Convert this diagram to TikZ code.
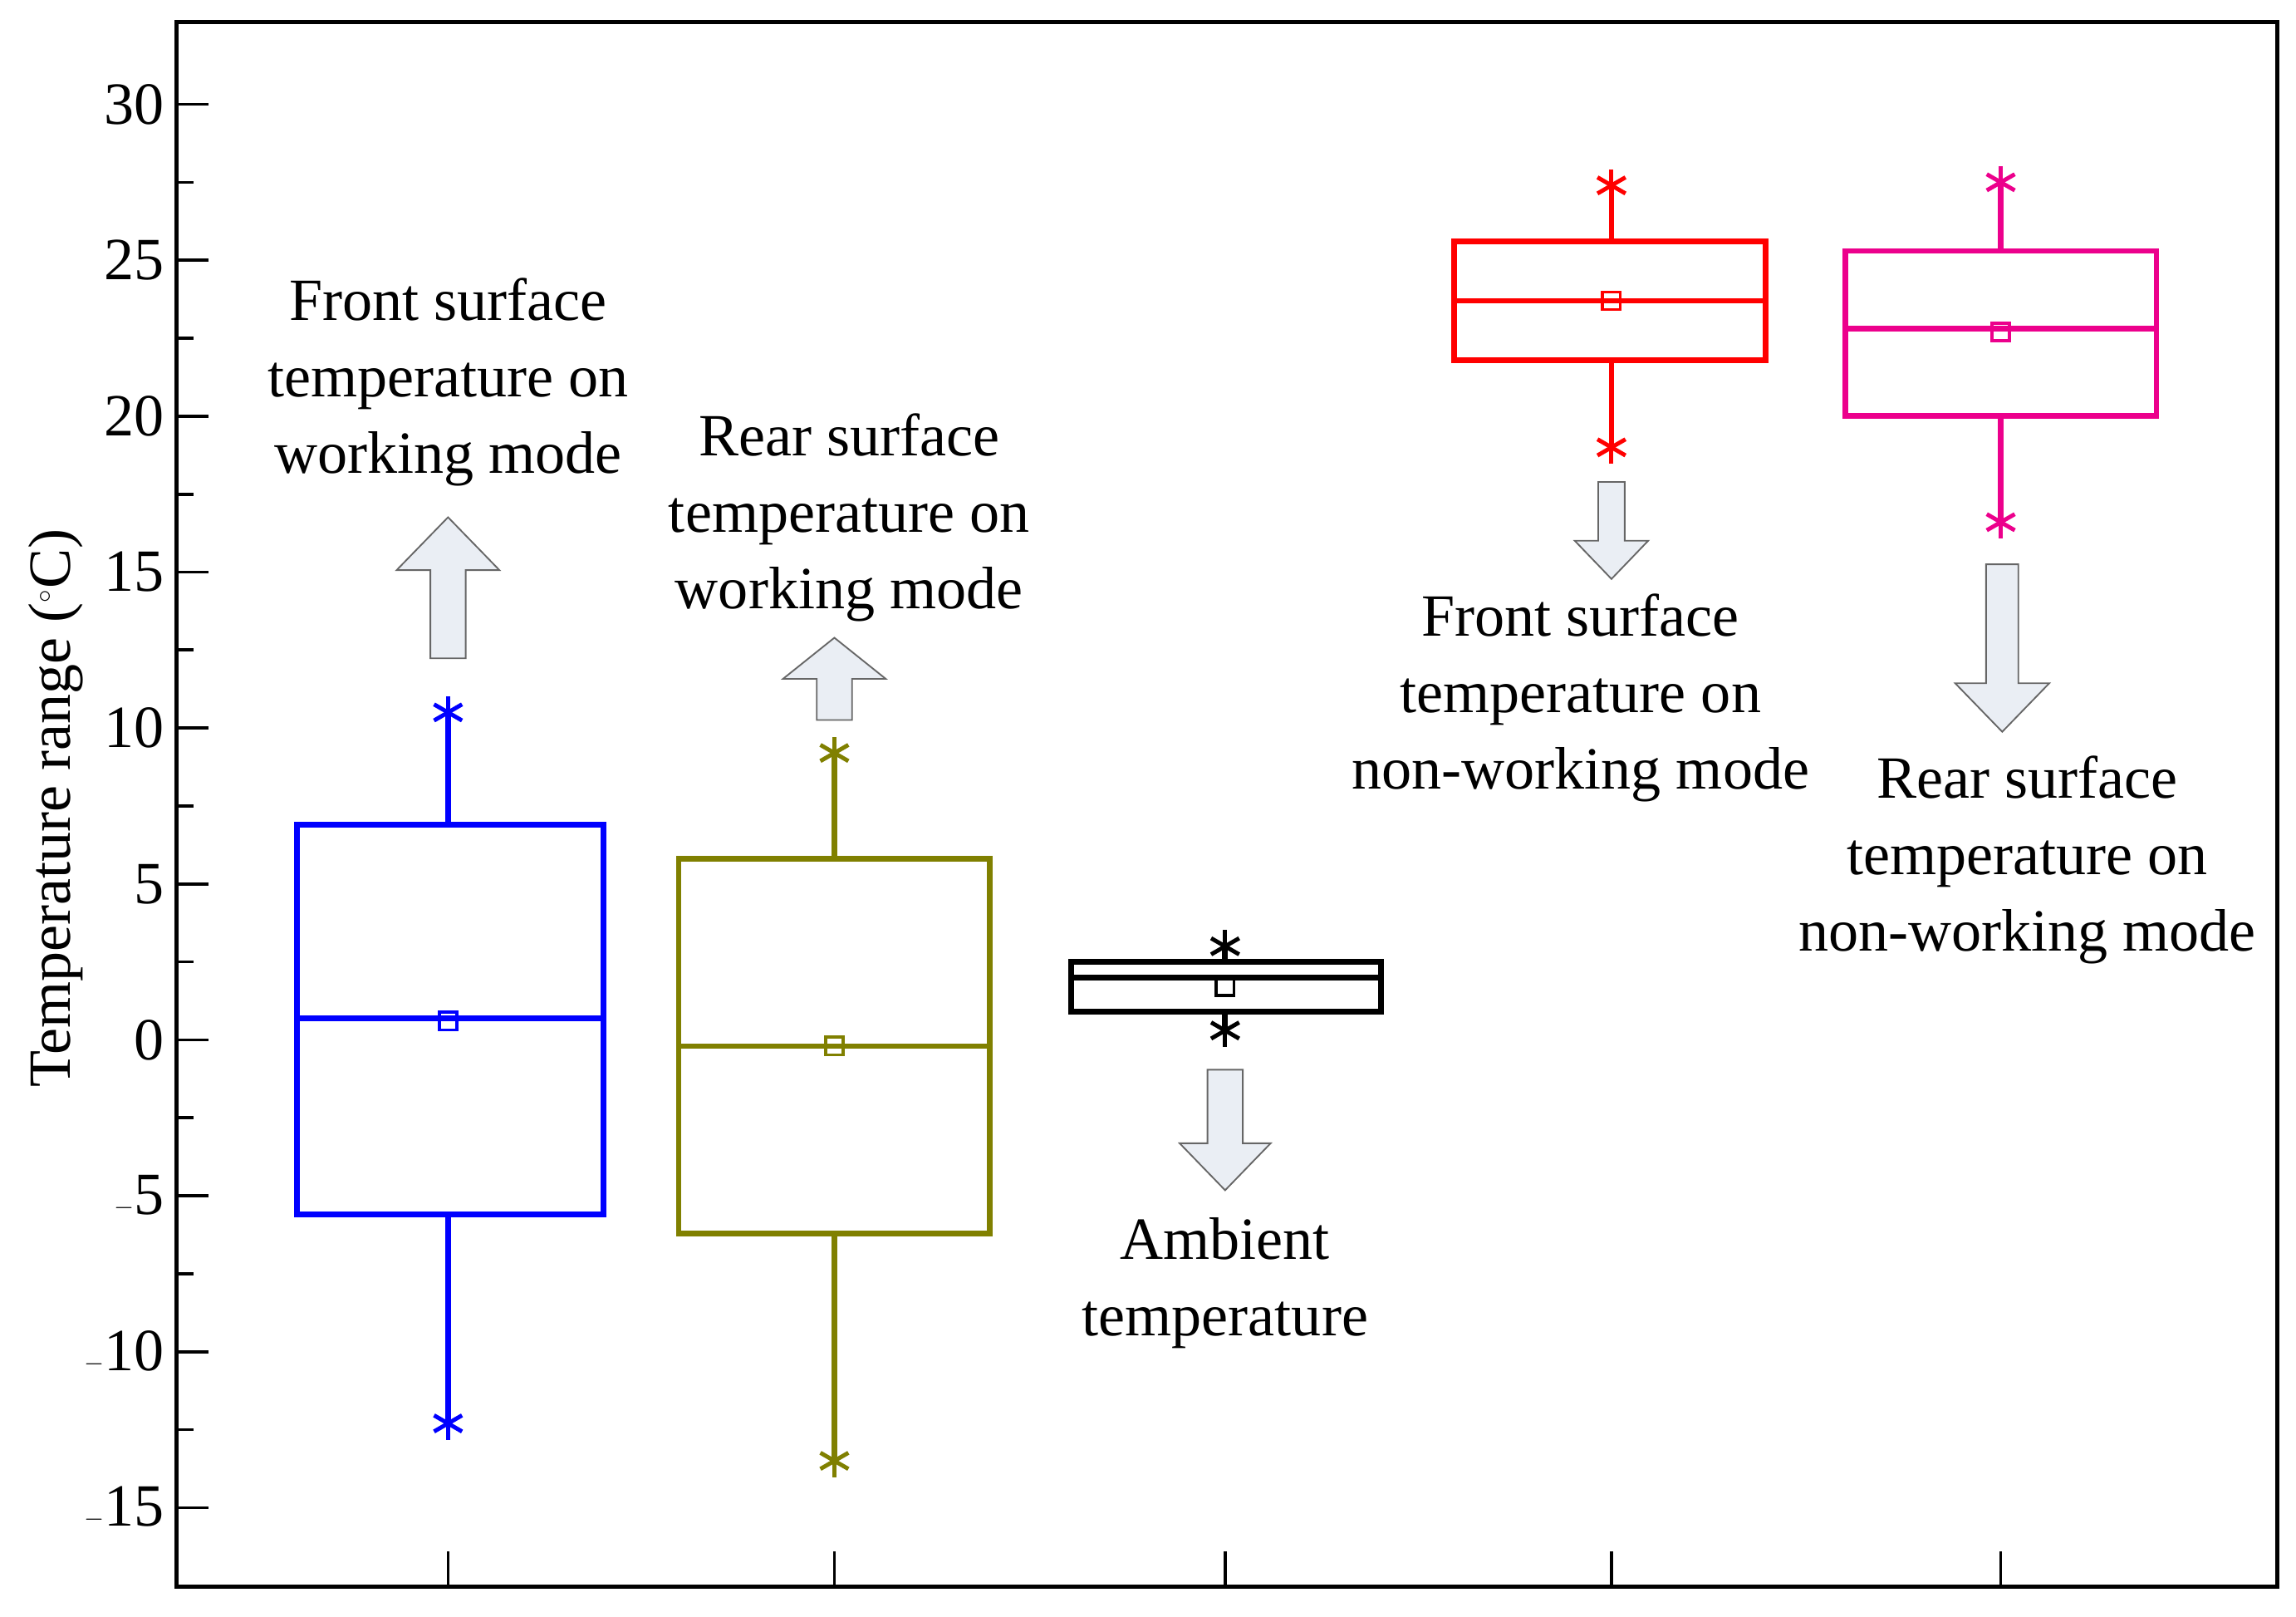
\documentclass[tikz,border=0pt]{standalone}
\usepackage{fontspec}
\setmainfont{Liberation Serif}
\definecolor{olive2}{RGB}{128,128,0}
\definecolor{arrfill}{RGB}{234,238,244}
\newcommand\Y[1]{(71+(30-(#1))*21.222)}
% box: color, cx, left, right, top, bottom, median, mean, whiskhi, whisklo
\newcommand\mybox[9]{%
 \draw[bxl,#1] (#3,{\Y{#5}}) rectangle (#4,{\Y{#6}});
 \draw[bxl,#1] (#3,{\Y{#7}}) -- (#4,{\Y{#7}});
 \draw[bxl,#1] (#2,{\Y{#5}}) -- (#2,{\Y{#9}});
 \draw[bxl,#1] (#2,{\Y{#6}}) -- (#2,{\Y{\lowv}});
 \draw[#1,line width=3pt] ({#2-6},{\Y{#8}-6}) rectangle ({#2+6},{\Y{#8}+6});
 \foreach \v in {#9,\lowv}{\foreach \a in {90,30,-30}{\draw[#1,line width=4pt] ($(#2,{\Y{\v}})+(\a:11)$) -- ($(#2,{\Y{\v}})+(\a+180:11)$);}}
}
% block arrow: cx, shaft half width, shaft end y, head base y, head half width, tip y
\newcommand\barr[6]{\draw[arrl] ({#1-#2},#3) -- ({#1-#2},#4) -- ({#1-#5},#4) -- (#1,#6) -- ({#1+#5},#4) -- ({#1+#2},#4) -- ({#1+#2},#3) -- cycle;}
\usetikzlibrary{calc}
\begin{document}
\begin{tikzpicture}[x=0.05cm,y=-0.05cm,
 bxl/.style={line width=5.5pt},
 arrl/.style={fill=arrfill,draw=gray!80!black,line width=1.5pt},
 lbl/.style={font=\fontsize{58}{74}\selectfont,align=center,inner sep=0pt},
 tk/.style={font=\fontsize{58}{70}\selectfont,anchor=east,inner sep=0pt}]
\useasboundingbox (0,0) rectangle (1563,1100);
\draw[line width=4pt] (120,15) rectangle (1550,1080);
\foreach \v in {-15,-10,...,30}{
 \draw[line width=3pt] (120,{\Y{\v}}) -- (142,{\Y{\v}});
 \node[tk] (t\v) at (112,{\Y{\v}}) {\ifnum\v<0 $-$\the\numexpr-\v\relax\else\v\fi};}
\foreach \v in {-12.5,-7.5,...,27.5}{\draw[line width=3pt] (120,{\Y{\v}}) -- (132,{\Y{\v}});}
\foreach \x in {305,568,834,1097,1362}{\draw[line width=3pt] (\x,1080) -- (\x,1056);}
\node[font=\fontsize{58}{70}\selectfont,rotate=90,inner sep=0pt] (yl) at (38,550) {Temperature range (\textsuperscript{$^\circ$}C)};
\def\lowv{-12.3}\mybox{blue}{305}{202}{411}{6.9}{-5.6}{0.7}{0.6}{10.5}
\def\lowv{-13.5}\mybox{olive2}{568}{462}{674}{5.8}{-6.2}{-0.2}{-0.2}{9.2}
\def\lowv{0.3}\mybox{black}{834}{729}{940}{2.5}{0.9}{2.0}{1.7}{3.0}
\def\lowv{19.0}\mybox{red}{1097}{990}{1202}{25.6}{21.8}{23.7}{23.7}{27.4}
\def\lowv{16.6}\mybox{magenta}{1362}{1256}{1468}{25.3}{20.0}{22.8}{22.7}{27.5}
\barr{305}{12}{448}{388}{35}{352}
\barr{568}{12}{490}{462}{35}{434}
\barr{834}{12}{728}{778}{31}{810}
\barr{1097}{9}{328}{368}{25}{394}
\barr{1363}{11}{384}{465}{32}{498}
\node[lbl] (l1) at (305,260) {Front surface\\temperature on\\working mode};
\node[lbl] (l2) at (578,352) {Rear surface\\temperature on\\working mode};
\node[lbl] (l3) at (834,873) {Ambient\\temperature};
\node[lbl] (l4) at (1076,475) {Front surface\\temperature on\\non-working mode};
\node[lbl] (l5) at (1380,585) {Rear surface\\temperature on\\non-working mode};
\end{tikzpicture}
\end{document}
